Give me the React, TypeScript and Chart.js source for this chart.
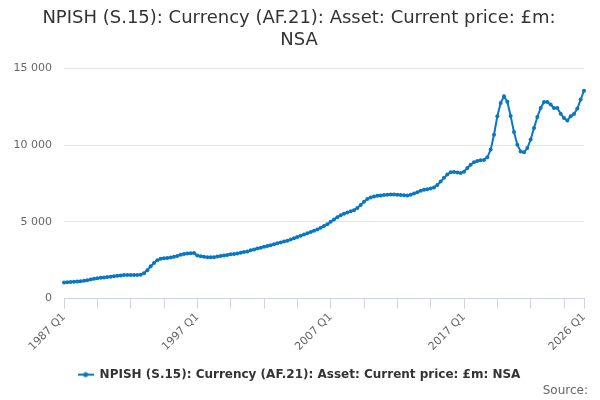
import React, { useEffect, useRef } from "react";
import { Chart, registerables } from "chart.js";

Chart.register(...registerables);

const TITLE_LINES = ["NPISH (S.15): Currency (AF.21): Asset: Current price: £m:", "NSA"];
const SERIES_NAME = "NPISH (S.15): Currency (AF.21): Asset: Current price: £m: NSA";
const SOURCE_TEXT = "Source:";

const START_YEAR = 1987;
const END_YEAR = 2026;

// Quarterly values, £m, 1987 Q1 .. 2026 Q1
const values: number[] = [
  1050, 1060, 1080, 1090, 1110, 1130, 1160, 1200, 1250, 1290,
  1320, 1350, 1380, 1400, 1420, 1450, 1480, 1500, 1530, 1540,
  1540, 1530, 1540, 1560, 1650, 1850, 2100, 2320, 2500, 2590,
  2630, 2650, 2680, 2720, 2780, 2850, 2900, 2940, 2960, 2970,
  2800, 2760, 2730, 2700, 2690, 2700, 2740, 2780, 2800, 2840,
  2880, 2900, 2930, 2980, 3030, 3070, 3140, 3200, 3260, 3310,
  3370, 3420, 3480, 3540, 3600, 3660, 3720, 3770, 3850, 3930,
  4010, 4090, 4170, 4250, 4330, 4410, 4500, 4620, 4720, 4840,
  5000, 5150, 5300, 5430, 5530, 5600, 5680, 5760, 5900, 6100,
  6300, 6480, 6590, 6650, 6690, 6720, 6750, 6760, 6780, 6770,
  6760, 6750, 6730, 6720, 6760, 6850, 6930, 7020, 7090, 7120,
  7160, 7240, 7400, 7620, 7860, 8080, 8230, 8250, 8210, 8170,
  8260, 8500, 8720, 8880, 8960, 9000, 9030, 9200, 9700, 10670,
  11870, 12740, 13170, 12820, 11890, 10840, 10020, 9580, 9520, 9800,
  10350, 11100, 11820, 12410, 12800, 12800, 12630, 12410, 12410, 12040,
  11760, 11590, 11870, 12020, 12370, 12960, 13540,
];

const categories: string[] = [];
for (let y = START_YEAR; y <= END_YEAR; y++) {
  for (let q = 1; q <= 4; q++) {
    if (y === END_YEAR && q > 1) break;
    categories.push(`${y} Q${q}`);
  }
}

const Y_MIN = 0;
const Y_MAX = 15000;
const Y_STEP = 5000;
const TICK_EVERY = 10;
const LABEL_EVERY = 40;

const LINE_COLOR = "#0a77c2";
const FONT = "'DejaVu Sans', Verdana, sans-serif";

function fmt(v: number): string {
  return String(v).replace(/\B(?=(\d{3})+(?!\d))/g, " ");
}

function legendSymbol(): HTMLCanvasElement {
  const c = document.createElement("canvas");
  c.width = 16;
  c.height = 8;
  const g = c.getContext("2d")!;
  g.strokeStyle = LINE_COLOR;
  g.lineWidth = 2;
  g.beginPath();
  g.moveTo(0, 4);
  g.lineTo(16, 4);
  g.stroke();
  g.fillStyle = LINE_COLOR;
  g.beginPath();
  g.arc(8, 4, 2.5, 0, Math.PI * 2);
  g.fill();
  return c;
}

export default function App() {
  const ref = useRef<HTMLCanvasElement | null>(null);

  useEffect(() => {
    document.body.style.margin = "0";
    if (!ref.current) return;
    const last = categories.length - 1;
    const chart = new Chart(ref.current, {
      type: "line",
      data: {
        labels: categories,
        datasets: [
          {
            label: SERIES_NAME,
            data: values,
            borderColor: LINE_COLOR,
            backgroundColor: LINE_COLOR,
            borderWidth: 2,
            pointRadius: 2,
            pointBorderWidth: 0,
            pointBackgroundColor: LINE_COLOR,
            tension: 0,
          },
        ],
      },
      options: {
        animation: false,
        responsive: true,
        maintainAspectRatio: false,
        layout: { padding: { left: 10, right: 12, top: 0, bottom: 0 } },
        scales: {
          x: {
            type: "category",
            offset: false,
            afterFit: (s: any) => {
              s.height = 70;
              s.paddingRight = 16;
            },
            grid: {
              drawOnChartArea: false,
              drawTicks: true,
              tickLength: 10,
              color: (ctx: any) =>
                ctx.index % TICK_EVERY === 0 || ctx.index === last ? "#ccd6eb" : "rgba(0,0,0,0)",
            },
            border: { display: true, color: "#ccd6eb", width: 1 },
            ticks: {
              autoSkip: false,
              maxRotation: 45,
              minRotation: 45,
              padding: 2,
              color: "#666666",
              font: { family: FONT, size: 11 },
              callback: (_v: any, i: number) =>
                i % LABEL_EVERY === 0 || i === last ? categories[i] : "",
            },
          },
          y: {
            min: Y_MIN,
            max: Y_MAX,
            afterFit: (s: any) => {
              s.width = 54;
            },
            grid: { color: "#e6e6e6", drawTicks: false },
            border: { display: false },
            ticks: {
              stepSize: Y_STEP,
              padding: 12,
              color: "#666666",
              font: { family: FONT, size: 11 },
              callback: (v: any) => fmt(Number(v)),
            },
          },
        },
        plugins: {
          title: {
            display: true,
            text: TITLE_LINES,
            color: "#333333",
            font: { family: FONT, size: 18, weight: "normal" },
            padding: { top: 8, bottom: 17 },
          },
          subtitle: {
            display: true,
            text: SOURCE_TEXT,
            position: "bottom",
            align: "end",
            color: "#666666",
            font: { family: FONT, size: 12, weight: "normal" },
            padding: { top: -7, bottom: 2 },
          },
          legend: {
            display: true,
            position: "bottom",
            labels: {
              usePointStyle: true,
              pointStyle: legendSymbol() as any,
              pointStyleWidth: 16,
              padding: 0,
              color: "#333333",
              font: { family: FONT, size: 12, weight: "bold" },
            },
          },
          tooltip: { enabled: false },
        },
      } as any,
    });
    return () => chart.destroy();
  }, []);

  return (
    <div style={{ width: 600, height: 400, position: "relative" }}>
      <canvas ref={ref} />
    </div>
  );
}
